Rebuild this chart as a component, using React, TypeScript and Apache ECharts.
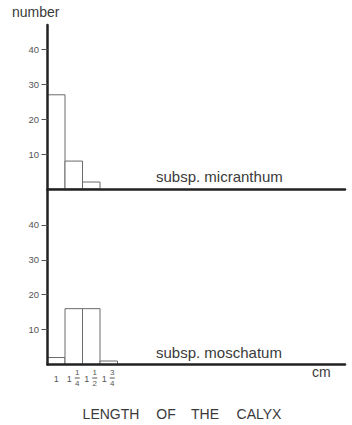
import React, { useEffect, useRef } from "react";
import * as echarts from "echarts";

const binWidth = 0.25;
const micranthum: [number, number][] = [
  [1, 27],
  [1.25, 8],
  [1.5, 2],
];
const moschatum: [number, number][] = [
  [1, 2],
  [1.25, 16],
  [1.5, 16],
  [1.75, 1],
];
const yTicks = [10, 20, 30, 40];
const xTickValues = [1, 1.25, 1.5, 1.75];
const xTickInt = ["1", "1", "1", "1"];
const xTickFracNum = ["", "1", "1", "3"];
const xTickFracDen = ["", "4", "2", "4"];
const panelNames = ["subsp. micranthum", "subsp. moschatum"];
const yName = "number";
const xUnit = "cm";
const xTitleWords = ["LENGTH", "OF", "THE", "CALYX"];

const FONT = "'Liberation Sans', Arial, Helvetica, sans-serif";
const AXIS = "#222";
const TXT = "#3a3a3a";
const TICK = "#555";

function barRender(params: any, api: any) {
  const x = api.value(0);
  const y = api.value(1);
  const p0 = api.coord([x - binWidth / 2, y]);
  const p1 = api.coord([x + binWidth / 2, 0]);
  return {
    type: "rect",
    shape: { x: p0[0], y: p0[1], width: p1[0] - p0[0], height: p1[1] - p0[1] },
    style: { fill: "#fff", stroke: "#6a6a6a", lineWidth: 1 },
  };
}

export default function App() {
  const ref = useRef<HTMLDivElement>(null);
  useEffect(() => {
    if (!ref.current) return;
    const chart = echarts.init(ref.current, null, { renderer: "svg" });
    const xBase = {
      type: "value",
      min: 0.875,
      max: 5.125,
      splitLine: { show: false },
      axisTick: { show: false },
      axisLine: { show: true, lineStyle: { color: AXIS, width: 2.5 } },
      z: 5,
    };
    const yBase = (max: number) => ({
      type: "value",
      min: 0,
      max,
      splitLine: { show: false },
      axisLine: { show: true, lineStyle: { color: AXIS, width: 2.5 } },
      axisTick: {
        show: true,
        length: 6,
        customValues: yTicks,
        lineStyle: { color: TICK, width: 1 },
      },
      axisLabel: {
        customValues: yTicks,
        fontSize: 9.5,
        color: TICK,
        fontFamily: FONT,
        margin: 8.5,
      },
      z: 5,
    });
    const tickIndex = (v: number) =>
      xTickValues.findIndex((t) => Math.abs(t - v) < 1e-6);
    const titleX = [111, 166, 205, 259];
    chart.setOption({
      animation: false,
      grid: [
        { left: 47.5, top: 25, width: 297.5, height: 164 },
        { left: 47.5, top: 190, width: 297.5, height: 174.5 },
      ],
      xAxis: [
        { ...xBase, gridIndex: 0, axisLabel: { show: false } },
        {
          ...xBase,
          gridIndex: 1,
          position: "bottom",
          axisLabel: {
            show: true,
            customValues: xTickValues,
            margin: 10,
            formatter: (v: number) => {
              const i = tickIndex(v);
              if (i < 0) return "";
              return xTickFracNum[i] ? `{s|${xTickInt[i]}}` : `{c|${xTickInt[i]}}`;
            },
            rich: {
              c: { fontSize: 9, lineHeight: 9, color: TICK, fontFamily: FONT },
              s: {
                fontSize: 9,
                lineHeight: 9,
                color: TICK,
                fontFamily: FONT,
                padding: [0, 9, 0, 0],
              },
            },
          },
        },
        {
          ...xBase,
          gridIndex: 1,
          position: "bottom",
          offset: 0,
          axisLine: { show: false },
          axisLabel: {
            show: true,
            customValues: xTickValues,
            margin: 4.5,
            padding: [0, 0, 0, 7],
            formatter: (v: number) => {
              const i = tickIndex(v);
              if (i < 0 || !xTickFracNum[i]) return "";
              return `{n|${xTickFracNum[i]}}\n{l| }\n{n|${xTickFracDen[i]}}`;
            },
            rich: {
              n: { fontSize: 8, lineHeight: 7.5, color: TICK, fontFamily: FONT, align: "center" },
              l: {
                fontSize: 1,
                width: 5,
                height: 1,
                lineHeight: 3,
                backgroundColor: TICK,
                align: "center",
              },
            },
          },
        },
      ],
      yAxis: [
        { ...yBase(47), gridIndex: 0 },
        { ...yBase(50), gridIndex: 1 },
      ],
      series: [
        {
          type: "custom",
          xAxisIndex: 0,
          yAxisIndex: 0,
          data: micranthum,
          renderItem: barRender,
          z: 1,
        },
        {
          type: "custom",
          xAxisIndex: 1,
          yAxisIndex: 1,
          data: moschatum,
          renderItem: barRender,
          z: 1,
        },
      ],
      graphic: [
        {
          type: "text",
          x: 12,
          y: 12,
          style: { text: yName, fontSize: 14, fill: TXT, fontFamily: FONT, verticalAlign: "middle" },
        },
        {
          type: "text",
          x: 156,
          y: 176,
          style: { text: panelNames[0], fontSize: 15, fill: TXT, fontFamily: FONT, verticalAlign: "middle" },
        },
        {
          type: "text",
          x: 156,
          y: 352,
          style: { text: panelNames[1], fontSize: 15, fill: TXT, fontFamily: FONT, verticalAlign: "middle" },
        },
        {
          type: "text",
          x: 312,
          y: 372,
          style: { text: xUnit, fontSize: 14, fill: TXT, fontFamily: FONT, verticalAlign: "middle" },
        },
        ...xTitleWords.map((w, i) => ({
          type: "text",
          x: titleX[i],
          y: 414,
          style: {
            text: w,
            fontSize: 14,
            fill: TXT,
            fontFamily: FONT,
            align: "center",
            verticalAlign: "middle",
          },
        })),
      ],
    });
    return () => chart.dispose();
  }, []);
  return (
    <div
      ref={ref}
      style={{ position: "fixed", left: 0, top: 0, width: 352, height: 425, background: "#fff" }}
    />
  );
}
